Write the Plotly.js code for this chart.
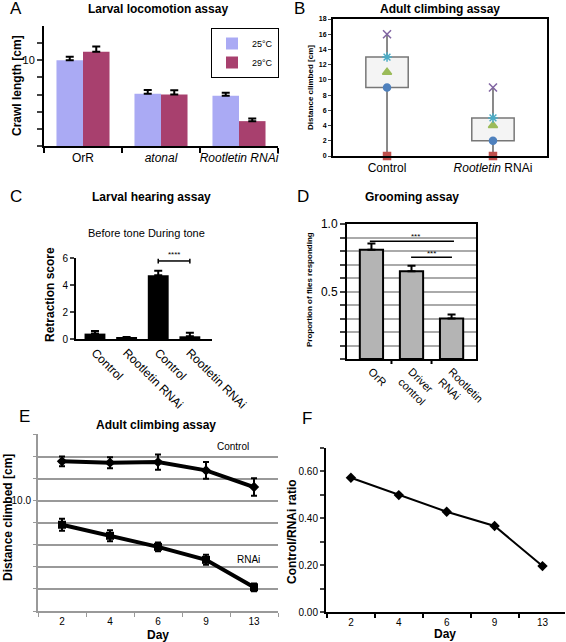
<!DOCTYPE html>
<html><head><meta charset="utf-8">
<script src="https://cdn.plot.ly/plotly-3.0.1.min.js"></script>
<style>html,body{margin:0;padding:0;background:#fff}#chart{width:566px;height:642px}</style>
</head><body><div id="chart"></div>
<script>
// ---------- DATA ----------
// A: Larval locomotion
const aCats = ['OrR', '<i>atonal</i>', '<i>Rootletin RNAi</i>'];
const a25 = [10.0, 6.1, 5.85];
const a25Err = [0.4, 0.42, 0.35];
const a29 = [11.0, 6.0, 2.9];
const a29Err = [0.6, 0.5, 0.3];
// B: Adult climbing box summary
const bCats = ['Control', '<i>Rootletin</i> RNAi'];
const bMin = [0, 0];
const bQ1 = [9, 2];
const bMid = [11, 4];
const bQ3 = [13, 5];
const bMax = [16, 9];
// C: Larval hearing
const cLabels = ['Control', 'Rootletin RNAi', 'Control', 'Rootletin RNAi'];
const cVals = [0.4, 0.15, 4.72, 0.2];
const cErr = [0.2, 0, 0.34, 0.27];
// D: Grooming
const dLabels = ['OrR', 'Driver<br>control', 'Rootletin<br>RNAi'];
const dVals = [0.81, 0.65, 0.30];
const dErr = [0.045, 0.04, 0.03];
// E: Adult climbing over days
const days = ['2', '4', '6', '9', '13'];
const eControl = [13.57, 13.45, 13.5, 12.75, 11.24];
const eControlErr = [0.45, 0.5, 0.7, 0.75, 0.8];
const eRNAi = [7.82, 6.82, 5.82, 4.64, 2.15];
const eRNAiErr = [0.55, 0.5, 0.4, 0.45, 0.35];
// F: ratio
const fRatio = [0.573, 0.499, 0.428, 0.367, 0.196];

// ---------- LAYOUT HELPERS ----------
const W = 566, H = 642;
const FONT = 'Liberation Sans, Arial, Helvetica, sans-serif';
const dx = (l, r) => [l / W, r / W];
const dy = (t, b) => [1 - b / H, 1 - t / H];
function ann(text, px, py, size, opts) {
  return Object.assign({xref: 'paper', yref: 'paper', x: px / W, y: 1 - py / H, text: text,
    showarrow: false, xanchor: 'center', yanchor: 'middle',
    font: {family: FONT, size: size, color: '#000'}}, opts || {});
}
const bold = (t) => '<b>' + t + '</b>';

const traces = [];
// A
traces.push({type: 'bar', x: aCats, y: a25, name: '25°C', xaxis: 'x', yaxis: 'y',
  width: 0.34, offset: -0.34, marker: {color: '#aaaaf4', line: {width: 0}},
  error_y: {type: 'data', array: a25Err, arrayminus: a25Err.map(() => 0), symmetric: false, color: '#000', thickness: 2, width: 4}});
traces.push({type: 'bar', x: aCats, y: a29, name: '29°C', xaxis: 'x', yaxis: 'y',
  width: 0.34, offset: 0, marker: {color: '#a8406e', line: {width: 0}},
  error_y: {type: 'data', array: a29Err, arrayminus: a29Err.map(() => 0), symmetric: false, color: '#000', thickness: 2, width: 4}});

// B
const bIdx = bCats.map((_, i) => i);
const wx = [], wy = [];
bIdx.forEach(i => { wx.push(i, i, null, i, i, null); wy.push(bMin[i], bQ1[i], null, bQ3[i], bMax[i], null); });
traces.push({type: 'bar', x: bIdx, y: bQ3.map((q, i) => q - bQ1[i]), base: bQ1, width: 0.4,
  xaxis: 'x2', yaxis: 'y2', showlegend: false, marker: {color: '#f4f4f4', line: {color: '#777', width: 1.5}}});
traces.push({type: 'scatter', mode: 'lines', x: wx, y: wy, xaxis: 'x2', yaxis: 'y2', showlegend: false,
  line: {color: '#888', width: 2}});
const bMarks = [[bMin, 'square', '#c0504d', 7], [bQ1, 'circle', '#4f81bd', 7], [bMid, 'triangle-up', '#9bbb59', 8],
  [bQ3, 'asterisk-open', '#4bacc6', 8], [bMax, 'x-thin-open', '#8064a2', 8]];
bMarks.forEach(m => traces.push({type: 'scatter', mode: 'markers', x: bIdx, y: m[0], xaxis: 'x2', yaxis: 'y2', showlegend: false,
  cliponaxis: false, marker: {symbol: m[1], color: m[2], size: m[3], line: {color: m[2], width: 1.5}}}));

// C
const cIdx = cLabels.map((_, i) => i);
traces.push({type: 'bar', x: cIdx, y: cVals, width: 0.66, xaxis: 'x3', yaxis: 'y3', showlegend: false,
  marker: {color: '#000'},
  error_y: {type: 'data', array: cErr, arrayminus: cErr.map(() => 0), symmetric: false, color: '#000', thickness: 2, width: 4}});

// D
const dIdx = dLabels.map((_, i) => i);
traces.push({type: 'bar', x: dIdx, y: dVals, width: 0.58, xaxis: 'x4', yaxis: 'y4', showlegend: false,
  marker: {color: '#b4b4b4', line: {color: '#000', width: 2}},
  error_y: {type: 'data', array: dErr, arrayminus: dErr.map(() => 0), symmetric: false, color: '#000', thickness: 2, width: 4}});

// E
traces.push({type: 'scatter', mode: 'lines+markers', x: days, y: eControl, xaxis: 'x5', yaxis: 'y5', showlegend: false,
  line: {color: '#000', width: 4}, marker: {symbol: 'diamond', size: 8, color: '#000'},
  error_y: {type: 'data', array: eControlErr, color: '#000', thickness: 2, width: 3}});
traces.push({type: 'scatter', mode: 'lines+markers', x: days, y: eRNAi, xaxis: 'x5', yaxis: 'y5', showlegend: false,
  line: {color: '#000', width: 4}, marker: {symbol: 'square', size: 8, color: '#000'},
  error_y: {type: 'data', array: eRNAiErr, color: '#000', thickness: 2, width: 3}});

// F
traces.push({type: 'scatter', mode: 'lines+markers', x: days, y: fRatio, xaxis: 'x6', yaxis: 'y6', showlegend: false,
  line: {color: '#000', width: 2}, marker: {symbol: 'diamond', size: 8, color: '#000'}});

const tf = (s, w) => ({family: FONT, size: s, color: '#000', weight: w || 'normal'});
const seq = (a, b, st) => { const r = []; for (let v = a; v <= b + 1e-9; v += st) r.push(+v.toFixed(2)); return r; };

const aTicks = seq(0, 12, 2);
const dTicks = seq(0, 1, 0.1);
const eTicks = seq(0, 16, 2);
const fTicks = seq(0, 0.7, 0.1);

const layout = {
  width: W, height: H, margin: {l: 0, r: 0, t: 0, b: 0}, paper_bgcolor: '#fff', plot_bgcolor: 'rgba(0,0,0,0)',
  barmode: 'overlay', font: {family: FONT, color: '#000'},
  showlegend: true,
  legend: {x: 279 / W, y: 1 - 28 / H, xanchor: 'right', yanchor: 'top', bordercolor: '#000', borderwidth: 1,
    bgcolor: '#fff', font: tf(9), itemwidth: 30, tracegroupgap: 0},
  // A
  xaxis: {domain: dx(44, 278), anchor: 'y', type: 'category', range: [-0.5, 2.5], showline: true, linecolor: '#000', linewidth: 2,
    ticks: 'outside', tickson: 'boundaries', ticklen: 5, tickwidth: 2, tickcolor: '#000', tickangle: 0, tickfont: tf(12), showgrid: false, fixedrange: true},
  yaxis: {domain: dy(26, 146), anchor: 'x', range: [0, 14], showline: true, linecolor: '#000', linewidth: 2,
    ticks: 'outside', ticklen: 5, tickwidth: 2, tickvals: aTicks, ticktext: aTicks.map(v => v === 10 ? '10' : ''),
    tickfont: tf(11), showgrid: false, zeroline: false},
  // B
  xaxis2: {domain: dx(333, 547), anchor: 'y2', range: [-0.51, 1.51], tickvals: bIdx, ticktext: bCats, ticks: '', tickangle: 0,
    showline: true, mirror: true, linecolor: '#000', linewidth: 2, tickfont: tf(12), showgrid: false, zeroline: false},
  yaxis2: {domain: dy(19, 156), anchor: 'x2', range: [0, 18], dtick: 2, tick0: 0, showline: true, mirror: true, linecolor: '#000', linewidth: 2,
    ticks: 'outside', ticklen: 3, tickfont: tf(7, 'bold'), showgrid: false, zeroline: false},
  // C
  xaxis3: {domain: dx(76, 212), anchor: 'y3', range: [-0.6, 3.7], tickvals: cIdx, ticktext: cLabels, tickangle: 45, ticks: '',
    showline: true, linecolor: '#000', linewidth: 2, tickfont: tf(12), showgrid: false, zeroline: false},
  yaxis3: {domain: dy(258, 339), anchor: 'x3', range: [0, 6], tickvals: [0, 2, 4, 6], showline: true, linecolor: '#000', linewidth: 2,
    ticks: 'outside', ticklen: 4, tickwidth: 2, tickfont: tf(10), showgrid: false, zeroline: false},
  // D
  xaxis4: {domain: dx(347, 476), anchor: 'y4', range: [-0.61, 2.61], tickvals: dIdx, ticktext: dLabels, tickangle: 45, ticks: '',
    showline: true, mirror: true, linecolor: '#000', linewidth: 2, tickfont: tf(11), showgrid: false, zeroline: false},
  yaxis4: {domain: dy(224, 359), anchor: 'x4', range: [0, 1], tickvals: dTicks, ticktext: dTicks.map(v => v === 1 ? '1.0' : (v === 0.5 ? '0.5' : '')),
    showline: true, mirror: true, linecolor: '#000', linewidth: 2, ticks: 'outside', ticklen: 5, tickwidth: 2,
    showgrid: true, gridcolor: '#aaa', gridwidth: 2, tickfont: tf(12), zeroline: false},
  // E
  xaxis5: {domain: dx(38, 278), anchor: 'y5', type: 'category', range: [-0.5, 4.5], tickson: 'boundaries', ticks: 'outside', ticklen: 4,
    tickcolor: '#999', showline: true, linecolor: '#999', linewidth: 2, tickangle: 0, tickfont: tf(10), showgrid: false},
  yaxis5: {domain: dy(434, 611), anchor: 'x5', range: [0, 16.05], tickvals: eTicks, ticktext: eTicks.map(v => v === 10 ? '10.0' : ''),
    showline: true, linecolor: '#999', linewidth: 2, ticks: 'outside', ticklen: 3, tickcolor: '#999',
    showgrid: true, gridcolor: '#999', gridwidth: 2, tickfont: tf(10), zeroline: false},
  // F
  xaxis6: {domain: dx(326, 565), anchor: 'y6', type: 'category', range: [-0.52, 4.47], tickson: 'boundaries', ticks: 'outside', ticklen: 4,
    tickwidth: 2, tickcolor: '#000', showline: true, linecolor: '#000', linewidth: 2, tickangle: 0, tickfont: tf(10), showgrid: false},
  yaxis6: {domain: dy(448, 612), anchor: 'x6', range: [0, 0.7], tickvals: fTicks,
    ticktext: fTicks.map(v => (Math.round(v * 10) % 2 === 0) ? v.toFixed(2) : ''),
    showline: true, linecolor: '#000', linewidth: 2, ticks: 'outside', ticklen: 4, tickwidth: 2, tickfont: tf(10), showgrid: false, zeroline: false},
  shapes: [
    // C significance bracket
    {type: 'line', xref: 'x3', yref: 'y3', x0: 2, x1: 3, y0: 5.78, y1: 5.78, line: {color: '#000', width: 1.5}},
    {type: 'line', xref: 'x3', yref: 'y3', x0: 2, x1: 2, y0: 5.6, y1: 5.95, line: {color: '#000', width: 1.5}},
    {type: 'line', xref: 'x3', yref: 'y3', x0: 3, x1: 3, y0: 5.6, y1: 5.95, line: {color: '#000', width: 1.5}},
    // D significance lines
    {type: 'line', xref: 'x4', yref: 'y4', x0: -0.04, x1: 2.06, y0: 0.873, y1: 0.873, line: {color: '#000', width: 1.5}},
    {type: 'line', xref: 'x4', yref: 'y4', x0: 0.99, x1: 2.01, y0: 0.754, y1: 0.754, line: {color: '#000', width: 1.5}},
    // D category-boundary ticks
    {type: 'line', xref: 'x4', yref: 'paper', x0: 0.5, x1: 0.5, y0: 1 - 359 / H, y1: 1 - 364 / H, line: {color: '#000', width: 2}},
    {type: 'line', xref: 'x4', yref: 'paper', x0: 1.5, x1: 1.5, y0: 1 - 359 / H, y1: 1 - 364 / H, line: {color: '#000', width: 2}}
  ],
  annotations: [
    ann('A', 16, 8, 17),
    ann(bold('Larval locomotion assay'), 158, 9, 12),
    ann(bold('Crawl length [cm]'), 17, 86, 12, {textangle: -90}),
    ann('B', 299, 8, 17),
    ann(bold('Adult climbing assay'), 440, 9, 12),
    ann(bold('Distance climbed [cm]'), 310, 88, 8, {textangle: -90}),
    ann('C', 16, 196, 17),
    ann(bold('Larval hearing assay'), 151, 197, 12),
    ann('Before tone During tone', 146, 233, 11),
    ann(bold('Retraction score'), 50, 295, 12, {textangle: -90}),
    ann('****', 0, 0, 8, {xref: 'x3', yref: 'y3', x: 2.5, y: 5.8, yanchor: 'bottom'}),
    ann('D', 303, 196, 17),
    ann(bold('Grooming assay'), 412, 197, 12),
    ann(bold('Proportion of flies responding'), 310, 290, 8, {textangle: -90}),
    ann('***', 0, 0, 8, {xref: 'x4', yref: 'y4', x: 1.09, y: 0.905}),
    ann('***', 0, 0, 8, {xref: 'x4', yref: 'y4', x: 1.5, y: 0.785}),
    ann('E', 24, 416, 17),
    ann(bold('Adult climbing assay'), 156, 425, 12),
    ann('Control', 233, 446, 10),
    ann('RNAi', 248, 559, 10),
    ann(bold('Distance climbed [cm]'), 8, 518, 12, {textangle: -90}),
    ann(bold('Day'), 158, 635, 12),
    ann('F', 307, 418, 17),
    ann(bold('Control/RNAi ratio'), 292, 532, 12, {textangle: -90}),
    ann(bold('Day'), 445, 634, 12)
  ]
};

Plotly.newPlot('chart', traces, layout, {staticPlot: true, displayModeBar: false});
</script></body></html>
